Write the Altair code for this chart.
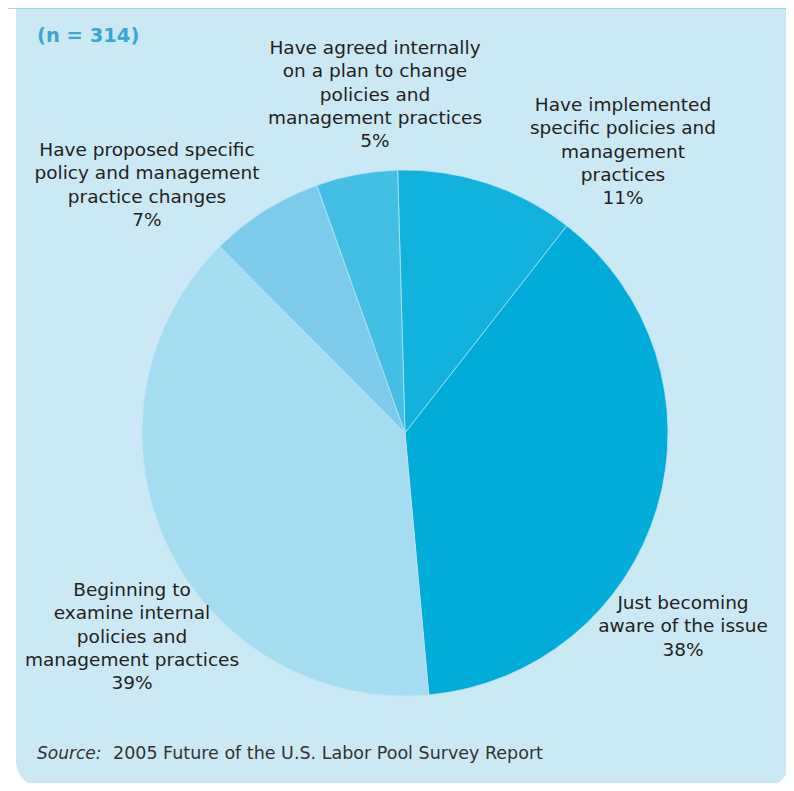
import math
import altair as alt
import pandas as pd

# ---- data ----
categories = [
    "Have implemented specific policies and management practices",
    "Just becoming aware of the issue",
    "Beginning to examine internal policies and management practices",
    "Have proposed specific policy and management practice changes",
    "Have agreed internally on a plan to change policies and management practices",
]
values = [11, 38, 39, 7, 5]
label_lines = [
    ["Have implemented", "specific policies and", "management", "practices", "11%"],
    ["Just becoming", "aware of the issue", "38%"],
    ["Beginning to", "examine internal", "policies and", "management practices", "39%"],
    ["Have proposed specific", "policy and management", "practice changes", "7%"],
    ["Have agreed internally", "on a plan to change", "policies and", "management practices", "5%"],
]
colors = ["#12b2df", "#00acd9", "#a5dcf0", "#7ccbea", "#43bfe6"]
title_text = "(n = 314)"
source_label = "Source:"
source_text = "2005 Future of the U.S. Labor Pool Survey Report"

df = pd.DataFrame({
    "category": categories,
    "value": values,
    "order": list(range(len(categories))),
    "label": ["\n".join(l) for l in label_lines],
})

W, H = 778, 775
FONT = "DejaVu Sans"

panel = alt.Chart(pd.DataFrame({"a": [0]})).mark_rect(
    color="#cbe9f5", cornerRadiusBottomLeft=26, cornerRadiusBottomRight=26
).encode(x=alt.value(8), x2=alt.value(782), y=alt.value(-1), y2=alt.value(779))

topline = alt.Chart(pd.DataFrame({"a": [0]})).mark_rule(
    color="#7fd3ee", strokeWidth=1.5
).encode(x=alt.value(0), x2=alt.value(W), y=alt.value(0))

off = -0.028
pie = alt.Chart(df).mark_arc(radius=263, stroke="#c2e6f4", strokeWidth=0.7).encode(
    theta=alt.Theta("value:Q", stack=True,
                    scale=alt.Scale(range=[off, 2 * math.pi + off])),
    color=alt.Color("category:N", scale=alt.Scale(domain=categories, range=colors),
                    legend=None),
    order=alt.Order("order:Q"),
    x=alt.value(397),
    y=alt.value(425),
)

label_pos = [(615, 88), (675, 586), (124, 573), (139, 133), (367, 31)]
label_layers = []
for cat, (lx, ly) in zip(categories, label_pos):
    label_layers.append(
        alt.Chart(df).transform_filter(alt.datum.category == cat).mark_text(
            font=FONT, fontSize=18.5, color="#222222", align="center",
            baseline="top", lineBreak="\n", lineHeight=23.3
        ).encode(text="label:N", x=alt.value(lx), y=alt.value(ly))
    )

title = alt.Chart(pd.DataFrame({"t": [title_text]})).mark_text(
    font=FONT, fontSize=19.5, fontWeight="bold", color="#3aa6d2",
    align="left", baseline="top"
).encode(text="t:N", x=alt.value(29), y=alt.value(19))

src1 = alt.Chart(pd.DataFrame({"t": [source_label]})).mark_text(
    font=FONT, fontSize=17, fontStyle="italic", color="#333333",
    align="left", baseline="alphabetic"
).encode(text="t:N", x=alt.value(29), y=alt.value(751))

src2 = alt.Chart(pd.DataFrame({"t": [source_text]})).mark_text(
    font=FONT, fontSize=17.5, color="#333333",
    align="left", baseline="alphabetic"
).encode(text="t:N", x=alt.value(105), y=alt.value(751))

chart = alt.layer(panel, topline, pie, *label_layers, title, src1, src2).properties(
    width=W, height=H, autosize=alt.AutoSizeParams(type="none"), padding=0,
    background="white"
).configure_view(stroke=None)

chart.save("out.html", embed_options={"renderer": "svg", "actions": False})
